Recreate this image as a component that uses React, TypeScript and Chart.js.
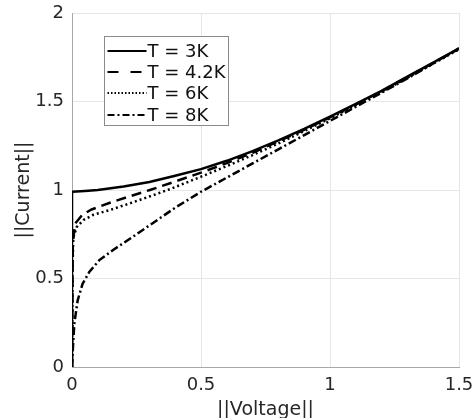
import React, { useEffect, useRef } from "react";
import { Chart, registerables } from "chart.js";

Chart.register(...registerables);

// ---- data ----
const seriesLabels = ["T = 3K", "T = 4.2K", "T = 6K", "T = 8K"];

const volt3K = [0, 0, 0.05, 0.1, 0.2, 0.3, 0.4, 0.5, 0.6, 0.7, 0.8, 0.9, 1.0, 1.1, 1.2, 1.3, 1.4, 1.5];
const curr3K = [0, 0.99, 0.995, 1.0, 1.02, 1.045, 1.08, 1.118, 1.165, 1.22, 1.28, 1.345, 1.415, 1.487, 1.56, 1.64, 1.72, 1.8];

const volt4K2 = [0, 0.003, 0.012, 0.04, 0.076, 0.147, 0.225, 0.302, 0.38, 0.5, 0.6, 0.7, 0.8, 0.9, 1.0, 1.1, 1.2, 1.3, 1.4, 1.5];
const curr4K2 = [0, 0.7, 0.81, 0.86, 0.89, 0.928, 0.965, 1.0, 1.038, 1.098, 1.152, 1.21, 1.275, 1.34, 1.41, 1.483, 1.558, 1.638, 1.718, 1.798];

const volt6K = [0, 0.002, 0.005, 0.018, 0.044, 0.083, 0.147, 0.225, 0.3, 0.38, 0.5, 0.6, 0.7, 0.8, 0.9, 1.0, 1.1, 1.2, 1.3, 1.4, 1.5];
const curr6K = [0, 0.55, 0.73, 0.79, 0.83, 0.86, 0.887, 0.925, 0.963, 1.005, 1.075, 1.135, 1.197, 1.263, 1.333, 1.405, 1.479, 1.554, 1.634, 1.714, 1.795];

const volt8K = [0, 0.004, 0.009, 0.022, 0.041, 0.067, 0.106, 0.158, 0.235, 0.3, 0.4, 0.5, 0.6, 0.7, 0.8, 0.9, 1.0, 1.1, 1.2, 1.3, 1.4, 1.5];
const curr8K = [0, 0.12, 0.245, 0.377, 0.47, 0.537, 0.604, 0.66, 0.735, 0.8, 0.9, 0.99, 1.07, 1.15, 1.23, 1.31, 1.39, 1.47, 1.55, 1.63, 1.715, 1.8];

const xTickValues = [0, 0.5, 1, 1.5];
const yTickValues = [0, 0.5, 1, 1.5, 2];
const xTitle = "||Voltage||";
const yTitle = "||Current||";

// ---- styles ----
const FONT = "'DejaVu Sans', sans-serif";
const dashPatterns: number[][] = [[], [10, 6], [2, 3], [8, 3, 2, 3]];
const legendDashPatterns: number[][] = [[], [11, 12], [1.5, 2], [7, 3, 2, 3]];

function toPoints(xs: number[], ys: number[]) {
  return xs.map((x, i) => ({ x, y: ys[i] }));
}

const legendPlugin = {
  id: "boxLegend",
  afterDraw(chart: any) {
    const { ctx, chartArea } = chart;
    const bx = Math.round(chartArea.left + 32) + 0.5;
    const by = Math.round(chartArea.top + 23) + 0.5;
    const bw = 124;
    const bh = 89;
    ctx.save();
    ctx.fillStyle = "#ffffff";
    ctx.fillRect(bx, by, bw, bh);
    ctx.strokeStyle = "#8a8a8a";
    ctx.lineWidth = 1;
    ctx.setLineDash([]);
    ctx.strokeRect(bx, by, bw, bh);
    const rowY = [14.5, 35.5, 56.5, 78.5];
    ctx.font = `18px ${FONT}`;
    ctx.textBaseline = "middle";
    ctx.textAlign = "left";
    seriesLabels.forEach((label, i) => {
      const y = by + rowY[i];
      ctx.strokeStyle = "#000000";
      ctx.lineWidth = 2;
      ctx.setLineDash(legendDashPatterns[i]);
      ctx.beginPath();
      ctx.moveTo(bx + 3, y);
      ctx.lineTo(bx + 42, y);
      ctx.stroke();
      ctx.setLineDash([]);
      ctx.fillStyle = "#111111";
      ctx.fillText(label, bx + 43, y + 1);
    });
    ctx.restore();
  },
};

export default function App() {
  const canvasRef = useRef<HTMLCanvasElement | null>(null);

  useEffect(() => {
    document.body.style.margin = "0";
    const canvas = canvasRef.current;
    if (!canvas) return;
    const series = [
      toPoints(volt3K, curr3K),
      toPoints(volt4K2, curr4K2),
      toPoints(volt6K, curr6K),
      toPoints(volt8K, curr8K),
    ];
    const chart = new Chart(canvas, {
      type: "scatter",
      data: {
        datasets: series.map((pts, i) => ({
          label: seriesLabels[i],
          data: pts,
          showLine: true,
          borderColor: "#000000",
          backgroundColor: "#000000",
          borderWidth: 2.5,
          borderDash: dashPatterns[i],
          pointRadius: 0,
          pointHoverRadius: 0,
          tension: 0,
          fill: false,
        })),
      },
      options: {
        animation: false,
        responsive: false,
        devicePixelRatio: 1,
        layout: { padding: { top: 13, right: 17, left: 0, bottom: 0 } },
        plugins: {
          legend: { display: false },
          tooltip: { enabled: false },
        },
        scales: {
          x: {
            type: "linear",
            min: 0,
            max: 1.5,
            afterBuildTicks: (scale: any) => {
              scale.ticks = xTickValues.map((v) => ({ value: v }));
            },
            afterFit: (scale: any) => {
              scale.height = 51;
              scale.paddingLeft = 0;
              scale.paddingRight = 0;
            },
            grid: { color: "#e6e6e6", drawTicks: false, lineWidth: 1 },
            border: { color: "#a8a8a8", width: 1 },
            ticks: {
              padding: 8,
              color: "#262626",
              font: { family: FONT, size: 18 },
              maxRotation: 0,
              callback: (v: any) => String(v),
            },
            title: {
              display: true,
              text: xTitle,
              color: "#262626",
              font: { family: FONT, size: 19 },
              padding: { top: 0, bottom: -3 },
            },
          },
          y: {
            type: "linear",
            min: 0,
            max: 2,
            afterBuildTicks: (scale: any) => {
              scale.ticks = yTickValues.map((v) => ({ value: v }));
            },
            afterFit: (scale: any) => {
              scale.width = 72;
              scale.paddingTop = 0;
              scale.paddingBottom = 0;
            },
            grid: { color: "#e6e6e6", drawTicks: false, lineWidth: 1 },
            border: { color: "#a8a8a8", width: 1 },
            ticks: {
              padding: 8,
              color: "#262626",
              font: { family: FONT, size: 18 },
              callback: (v: any) => String(v),
            },
            title: {
              display: true,
              text: yTitle,
              color: "#262626",
              font: { family: FONT, size: 19 },
              padding: { top: 13, bottom: 0 },
            },
          },
        },
      },
      plugins: [legendPlugin],
    });
    return () => chart.destroy();
  }, []);

  return (
    <div style={{ position: "absolute", left: 0, top: 0, width: 476, height: 418 }}>
      <canvas ref={canvasRef} width={476} height={418} style={{ display: "block" }} />
    </div>
  );
}
